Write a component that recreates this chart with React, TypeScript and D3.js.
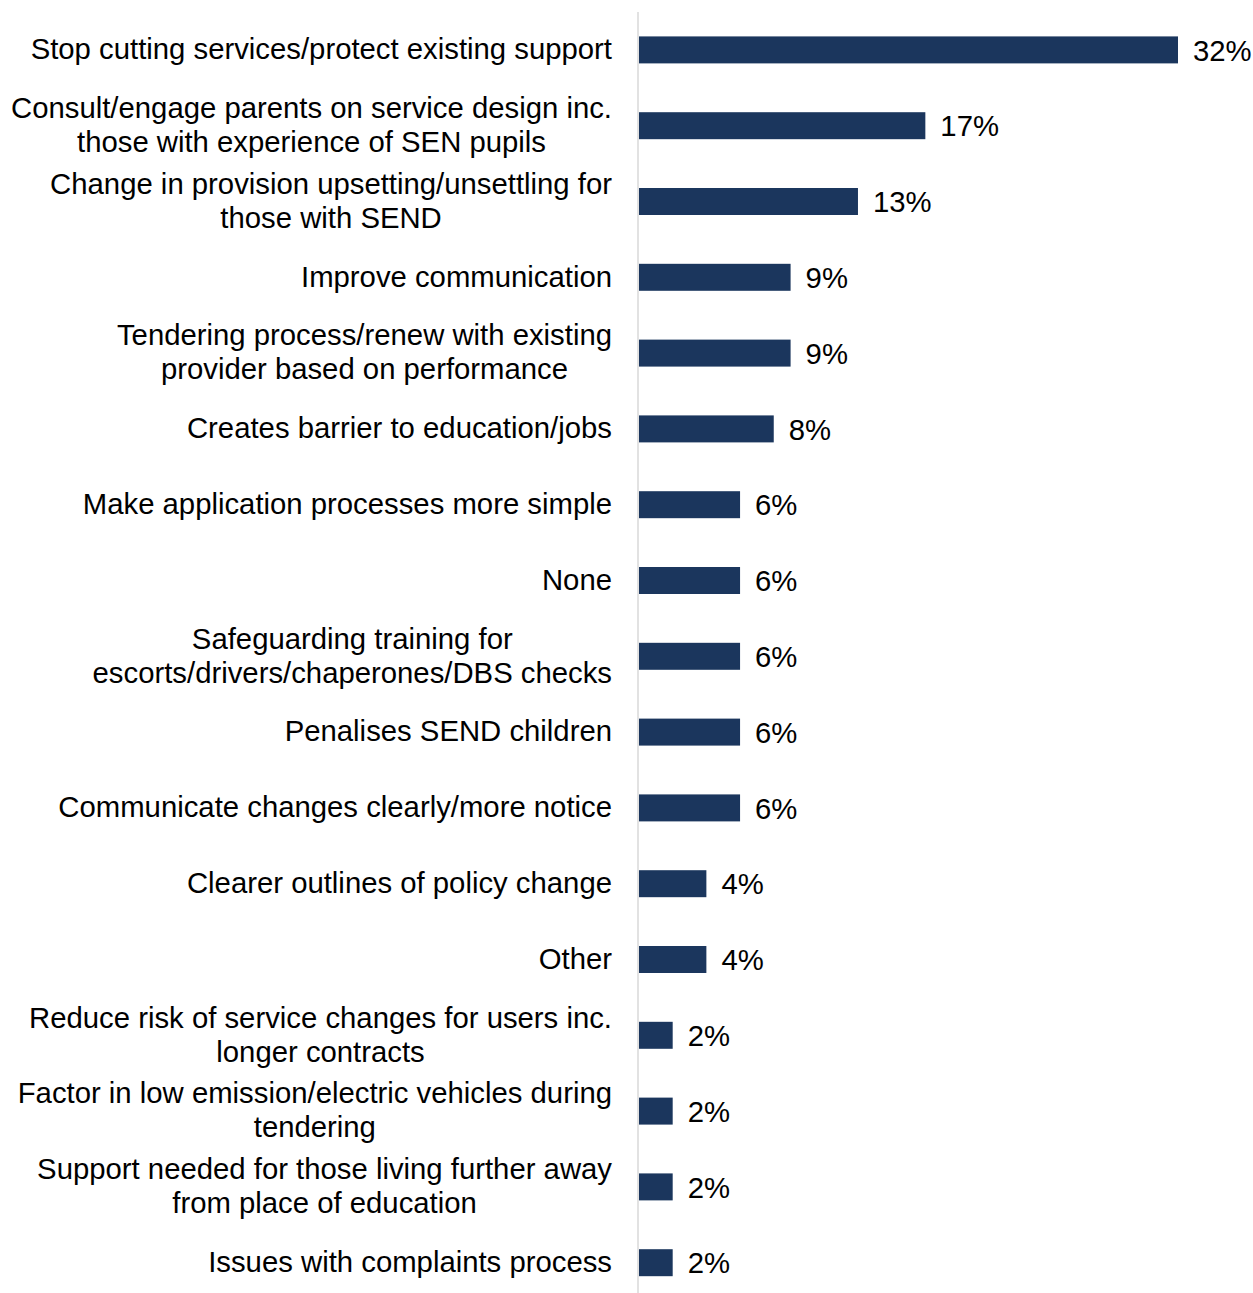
import React from "react";
import * as d3 from "d3";

const categories: string[][] = [
  ["Stop cutting services/protect existing support"],
  ["Consult/engage parents on service design inc.", "those with experience of SEN pupils"],
  ["Change in provision upsetting/unsettling for", "those with SEND"],
  ["Improve communication"],
  ["Tendering process/renew with existing", "provider based on performance"],
  ["Creates barrier to education/jobs"],
  ["Make application processes more simple"],
  ["None"],
  ["Safeguarding training for", "escorts/drivers/chaperones/DBS checks"],
  ["Penalises SEND children"],
  ["Communicate changes clearly/more notice"],
  ["Clearer outlines of policy change"],
  ["Other"],
  ["Reduce risk of service changes for users inc.", "longer contracts"],
  ["Factor in low emission/electric vehicles during", "tendering"],
  ["Support needed for those living further away", "from place of education"],
  ["Issues with complaints process"],
];
const values: number[] = [32, 17, 13, 9, 9, 8, 6, 6, 6, 6, 6, 4, 4, 2, 2, 2, 2];

const W = 1253;
const H = 1293;
const FS = 29.3;
const FONT = `${FS}px 'Liberation Sans', Arial, sans-serif`;

let ctx: CanvasRenderingContext2D | null = null;
function measure(t: string): number {
  if (!ctx) {
    const c = document.createElement("canvas");
    ctx = c.getContext("2d");
  }
  if (!ctx) return t.length * FS * 0.5;
  ctx.font = FONT;
  return ctx.measureText(t).width;
}

export default function App() {
  const keys = categories.map((c, i) => String(i));
  const y = d3
    .scaleBand<string>()
    .domain(keys)
    .range([12, 12 + 17 * 75.8])
    .paddingInner(0.644)
    .paddingOuter(0.322);
  const x = d3.scaleLinear().domain([0, 32]).range([639, 1178]);
  const labelRight = 612;
  const lineGap = 34;

  return (
    <svg
      width={W}
      height={H}
      style={{ position: "absolute", left: 0, top: 0, background: "#fff" }}
      fontFamily="'Liberation Sans', Arial, sans-serif"
      fontSize={FS}
    >
      <rect width={W} height={H} fill="#fff" />
      <line x1={638} x2={638} y1={12} y2={H} stroke="#d9d9d9" strokeWidth={1.5} />
      {values.map((v, i) => {
        const k = keys[i];
        const yc = (y(k) as number) + y.bandwidth() / 2;
        const lines = categories[i];
        const maxW = Math.max(...lines.map(measure));
        const cx = labelRight - maxW / 2;
        return (
          <g key={k}>
            <rect
              x={x(0)}
              y={y(k)}
              width={x(v) - x(0)}
              height={y.bandwidth()}
              fill="#1b365d"
            />
            <text x={x(v) + 15} y={yc + 1} dy="0.33em" fill="#000">
              {v + "%"}
            </text>
            {lines.map((ln, j) => (
              <text
                key={j}
                x={lines.length > 1 ? cx : labelRight}
                y={yc + (j - (lines.length - 1) / 2) * lineGap}
                dy="0.32em"
                textAnchor={lines.length > 1 ? "middle" : "end"}
                fill="#000"
              >
                {ln}
              </text>
            ))}
          </g>
        );
      })}
    </svg>
  );
}
